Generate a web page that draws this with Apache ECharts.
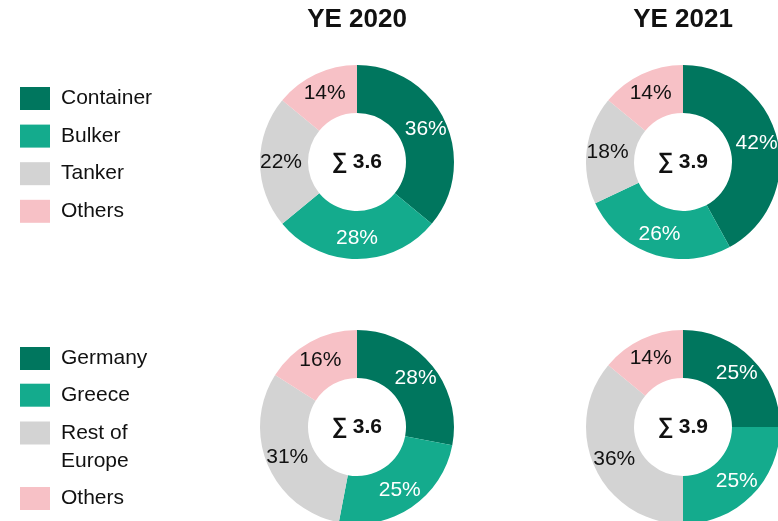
<!DOCTYPE html>
<html>
<head>
<meta charset="utf-8">
<script src="https://cdn.jsdelivr.net/npm/echarts@6/dist/echarts.min.js"></script>
<style>
  html, body { margin: 0; padding: 0; background: #fff; }
  #main { width: 778px; height: 521px; }
</style>
</head>
<body>
<div id="main"></div>
<script>
// 数据
var years = ['YE 2020', 'YE 2021'];
var vesselTypes = ['Container', 'Bulker', 'Tanker', 'Others'];
var regions = ['Germany', 'Greece', 'Rest of Europe', 'Others'];
var typeShares = [[36, 28, 22, 14], [42, 26, 18, 14]];
var regionShares = [[28, 25, 31, 16], [25, 25, 36, 14]];
var typeTotals = ['3.6', '3.9'];
var regionTotals = ['3.6', '3.9'];

var colors = ['#00765e', '#14ab8d', '#d3d3d3', '#f7c1c6'];
var labelColors = ['#fff', '#fff', '#111', '#111'];
var FONT = 'Liberation Sans, Arial, sans-serif';

(function () {
    var myChart = echarts.init(document.getElementById('main'));

    var colX = [357, 683];
    var rowY = [162, 427];

    // 组装一个环形图
    function donut(names, values, cx, cy) {
        return {
            type: 'pie',
            center: [cx, cy],
            radius: [49, 97],
            startAngle: 90,
            clockwise: true,
            silent: true,
            avoidLabelOverlap: false,
            label: {
                show: true,
                position: 'inside',
                formatter: '{c}%',
                fontFamily: FONT,
                fontSize: 21
            },
            labelLine: { show: false },
            data: names.map(function (n, i) {
                return {
                    name: n,
                    value: values[i],
                    itemStyle: { color: colors[i] },
                    label: { color: labelColors[i] }
                };
            })
        };
    }

    var series = [];
    var titles = [];
    for (var c = 0; c < 2; c++) {
        series.push(donut(vesselTypes, typeShares[c], colX[c], rowY[0]));
        series.push(donut(regions, regionShares[c], colX[c], rowY[1]));
        // 年份标题
        titles.push({
            text: years[c],
            left: colX[c],
            top: 20,
            padding: 0,
            textAlign: 'center',
            textVerticalAlign: 'middle',
            textStyle: { fontFamily: FONT, fontSize: 26, fontWeight: 'bold', color: '#111' }
        });
        // 中心合计
        [typeTotals[c], regionTotals[c]].forEach(function (t, r) {
            titles.push({
                text: '{s|∑} {b|' + t + '}',
                left: colX[c],
                top: rowY[r],
                padding: 0,
                textAlign: 'center',
                textVerticalAlign: 'middle',
                textStyle: {
                    rich: {
                        s: { fontFamily: FONT, fontSize: 22, color: '#111' },
                        b: { fontFamily: FONT, fontSize: 21, fontWeight: 'bold', color: '#111' }
                    }
                }
            });
        });
    }

    var legendBase = {
        orient: 'vertical',
        left: 20,
        padding: 0,
        icon: 'rect',
        itemWidth: 30,
        itemHeight: 23,
        selectedMode: false,
        textStyle: { fontFamily: FONT, fontSize: 21, color: '#111', padding: [0, 0, 0, 6] }
    };

    var legends = [
        Object.assign({}, legendBase, { top: 87, itemGap: 14.6, data: vesselTypes }),
        Object.assign({}, legendBase, { top: 347, itemGap: 13.7, data: ['Germany', 'Greece'] }),
        // 两行文字，首行与色块对齐
        Object.assign({}, legendBase, {
            top: 391,
            data: ['Rest of Europe'],
            formatter: function (name) { return '\nRest of\nEurope'; },
            textStyle: { fontFamily: FONT, fontSize: 21, color: '#111', lineHeight: 28, padding: [0, 0, 0, 6] }
        }),
        Object.assign({}, legendBase, { top: 487, data: ['Others'] })
    ];

    var option = {
        backgroundColor: '#fff',
        animation: false,
        title: titles,
        legend: legends,
        series: series
    };
    myChart.setOption(option);
    window.addEventListener('resize', function () {
        myChart.resize();
    });
})();
</script>
</body>
</html>
